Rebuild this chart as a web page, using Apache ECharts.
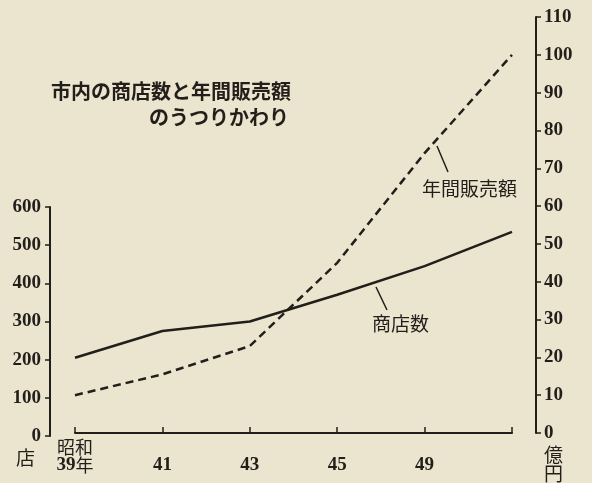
<!DOCTYPE html>
<html>
<head>
<meta charset="utf-8">
<script src="https://cdn.jsdelivr.net/npm/echarts@6/dist/echarts.min.js"></script>
<style>
html,body{margin:0;padding:0;background:#ebe4cf;}
#c{width:592px;height:483px;}
</style>
</head>
<body>
<div id="c"></div>
<script>
// Data
const years = ['39', '41', '43', '45', '49', '51'];
const xLabels = ['39', '41', '43', '45', '49', ''];
const shops = [205, 275, 300, 370, 445, 535];      // 商店数 (店)
const sales = [10, 15.5, 23, 45, 74, 100];          // 年間販売額 (億円)
const leftTicks = [0, 600, 100];
const rightTicks = [0, 110, 10];

const ink = '#221e1a';
const serif = "'Liberation Serif','Noto Sans CJK JP',serif";
const cjk = "'Noto Sans CJK JP',sans-serif";

const chart = echarts.init(document.getElementById('c'));
chart.setOption({
  backgroundColor: '#ebe4cf',
  animation: false,
  grid: [
    {left: 75, right: 80, top: 17, bottom: 47},
    {left: 75, right: 80, top: 207, bottom: 47}
  ],
  xAxis: [
    {
      type: 'category', gridIndex: 0, data: years, boundaryGap: false,
      axisLine: {lineStyle: {color: ink, width: 2}},
      axisTick: {inside: true, length: 6, interval: 0, lineStyle: {color: ink, width: 1.5}},
      axisLabel: {
        interval: 0, hideOverlap: false,
        color: ink, fontFamily: serif, fontSize: 19, lineHeight: 18, margin: 5,
        formatter: (v, i) => {
          if (!xLabels[i]) return '';
          return i === 0 ? '{c|昭和}\n{d|' + xLabels[i] + '}{c|年}' : '{c| }\n{d|' + xLabels[i] + '}';
        },
        rich: {
          c: {fontFamily: cjk, fontSize: 18, lineHeight: 18, color: ink},
          d: {fontFamily: serif, fontSize: 19, fontWeight: 'bold', lineHeight: 18, color: ink}
        }
      }
    },
    {type: 'category', gridIndex: 1, data: years, boundaryGap: false, show: false}
  ],
  yAxis: [
    {
      type: 'value', gridIndex: 0, position: 'right', offset: 24,
      min: rightTicks[0], max: rightTicks[1], interval: rightTicks[2],
      name: '億\n円', nameLocation: 'start', nameGap: 12,
      nameTextStyle: {color: ink, fontFamily: cjk, fontSize: 19, lineHeight: 19, align: 'left', padding: [0, 0, 0, 8], verticalAlign: 'top'},
      axisLine: {show: true, lineStyle: {color: ink, width: 2}},
      axisTick: {show: true, length: 5, lineStyle: {color: ink, width: 1.5}},
      axisLabel: {color: ink, fontFamily: serif, fontSize: 19, fontWeight: 'bold', margin: 8},
      splitLine: {show: false}
    },
    {
      type: 'value', gridIndex: 1, position: 'left', offset: 25,
      min: leftTicks[0], max: leftTicks[1], interval: leftTicks[2],
      name: '店', nameLocation: 'start', nameGap: 12,
      nameTextStyle: {color: ink, fontFamily: cjk, fontSize: 19, align: 'right', padding: [0, 15, 0, 0], verticalAlign: 'top'},
      axisLine: {show: true, lineStyle: {color: ink, width: 2}},
      axisTick: {show: true, length: 5, lineStyle: {color: ink, width: 1.5}},
      axisLabel: {color: ink, fontFamily: serif, fontSize: 19, fontWeight: 'bold', margin: 9},
      splitLine: {show: false}
    }
  ],
  series: [
    {
      name: '年間販売額', type: 'line', xAxisIndex: 0, yAxisIndex: 0, data: sales,
      symbol: 'none', lineStyle: {color: ink, width: 2.5, type: [8, 5]}
    },
    {
      name: '商店数', type: 'line', xAxisIndex: 1, yAxisIndex: 1, data: shops,
      symbol: 'none', lineStyle: {color: ink, width: 2.5}
    }
  ],
  graphic: [
    {type: 'text', style: {text: '市内の商店数と年間販売額', x: 291, y: 91, align: 'right', verticalAlign: 'middle', textAlign: 'right', textVerticalAlign: 'middle', font: 'bold 20px ' + cjk, fill: ink}},
    {type: 'text', style: {text: 'のうつりかわり', x: 289, y: 117, align: 'right', verticalAlign: 'middle', textAlign: 'right', textVerticalAlign: 'middle', font: 'bold 20px ' + cjk, fill: ink}},
    {type: 'text', style: {text: '年間販売額', x: 422, y: 189, align: 'left', verticalAlign: 'middle', textAlign: 'left', textVerticalAlign: 'middle', font: '19px ' + cjk, fill: ink}},
    {type: 'text', style: {text: '商店数', x: 372, y: 324, align: 'left', verticalAlign: 'middle', textAlign: 'left', textVerticalAlign: 'middle', font: '19px ' + cjk, fill: ink}},
    {type: 'line', shape: {x1: 437, y1: 146, x2: 448, y2: 172}, style: {stroke: ink, lineWidth: 1.5}},
    {type: 'line', shape: {x1: 376, y1: 287, x2: 387, y2: 310}, style: {stroke: ink, lineWidth: 1.5}}
  ]
});
</script>
</body>
</html>
